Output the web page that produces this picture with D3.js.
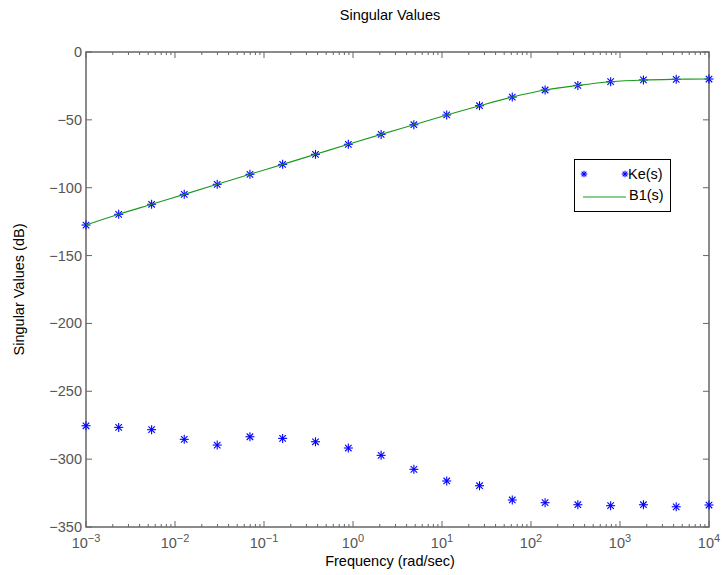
<!DOCTYPE html>
<html><head><meta charset="utf-8">
<script src="https://cdn.jsdelivr.net/npm/d3@7"></script>
<style>
body{margin:0;background:#fff;}
svg{display:block;font-family:"Liberation Sans",Arial,Helvetica,sans-serif;}
</style></head>
<body><svg id="chart" width="722" height="575"></svg>
<script>
// Frequencies (rad/sec): 20 log-spaced points from 1e-3 to 1e4
const frequencies = [0.001,0.00233,0.00546,0.0127,0.0298,0.0695,0.162,0.379,0.886,2.07,4.83,11.3,26.4,61.6,144,336,785,1833,4281,10000];
// Ke(s) singular values (dB): upper and lower
const keUpper = [-127.5,-119.6,-112.2,-104.9,-97.5,-90.1,-82.8,-75.4,-68.0,-60.7,-53.6,-46.4,-39.6,-33.2,-28.0,-24.6,-21.9,-20.6,-20.1,-19.9];
const keLower = [-275.4,-276.6,-278.3,-285.4,-289.6,-283.5,-284.7,-287.2,-291.8,-297.2,-307.5,-316.1,-319.6,-330.1,-332.1,-333.6,-334.3,-333.6,-335.1,-333.8];
// B1(s) singular value (dB)
const b1 = [-127.5,-119.6,-112.2,-104.9,-97.5,-90.1,-82.8,-75.4,-68.0,-60.7,-53.6,-46.4,-39.6,-33.2,-28.0,-24.6,-21.9,-20.6,-20.1,-19.9];
const yTicks = [0,-50,-100,-150,-200,-250,-300,-350];
const xTickExps = [-3,-2,-1,0,1,2,3,4];
const legendLabels = ["Ke(s)","B1(s)"];

const svg = d3.select("#chart");
const L=86,R=709,T=52,B=527;
const FS=14.5;
const x = d3.scaleLog().domain([1e-3,1e4]).range([L,R]);
const y = d3.scaleLinear().domain([-350,0]).range([B,T]);
const axisCol = "#666";
const blue="#0000ff", green="#1a9a1a";

// ticks (inward), mirrored
const g = svg.append("g");
const minor=[];
for(let e=-3;e<4;e++) for(let k=2;k<=9;k++) minor.push(k*Math.pow(10,e));
const drawX = (v,len)=>{
  g.append("line").attr("x1",x(v)).attr("x2",x(v)).attr("y1",B).attr("y2",B-len).attr("stroke",axisCol);
  g.append("line").attr("x1",x(v)).attr("x2",x(v)).attr("y1",T).attr("y2",T+len).attr("stroke",axisCol);
};
minor.forEach(v=>drawX(v,3));
xTickExps.forEach(e=>drawX(Math.pow(10,e),6));
yTicks.forEach(v=>{
  g.append("line").attr("x1",L).attr("x2",L+6).attr("y1",y(v)).attr("y2",y(v)).attr("stroke",axisCol);
  g.append("line").attr("x1",R).attr("x2",R-6).attr("y1",y(v)).attr("y2",y(v)).attr("stroke",axisCol);
});
// box
svg.append("rect").attr("x",L).attr("y",T).attr("width",R-L).attr("height",B-T)
  .attr("fill","none").attr("stroke",axisCol).attr("stroke-width",1.5);

// tick labels
yTicks.forEach(v=>{
  svg.append("text").attr("x",L-4).attr("y",y(v)+5).attr("text-anchor","end")
    .attr("font-size",FS).attr("fill","#555").text(v===0?"0":"\u2212"+Math.abs(v));
});
xTickExps.forEach(e=>{
  const t = svg.append("text").attr("x",x(Math.pow(10,e))).attr("y",548).attr("text-anchor","middle")
    .attr("font-size",FS).attr("fill","#555");
  t.append("tspan").text("10");
  t.append("tspan").attr("dy",-6).attr("font-size",11).text(e<0?"\u2212"+Math.abs(e):String(e));
});

// titles
svg.append("text").attr("x",390).attr("y",19.5).attr("text-anchor","middle").attr("font-size",FS).attr("fill","#000").text("Singular Values");
svg.append("text").attr("x",390).attr("y",565.5).attr("text-anchor","middle").attr("font-size",FS).attr("fill","#000").text("Frequency (rad/sec)");
svg.append("text").attr("transform",`translate(24,${(T+B)/2}) rotate(-90)`).attr("text-anchor","middle").attr("font-size",FS).attr("fill","#000").text("Singular Values (dB)");

// star marker
function star(sel,cx,cy,r){
  const gg = sel.append("g").attr("stroke",blue).attr("stroke-width",1.1);
  const d=r*0.72;
  gg.append("line").attr("x1",cx-r).attr("x2",cx+r).attr("y1",cy).attr("y2",cy);
  gg.append("line").attr("x1",cx).attr("x2",cx).attr("y1",cy-r).attr("y2",cy+r);
  gg.append("line").attr("x1",cx-d).attr("x2",cx+d).attr("y1",cy-d).attr("y2",cy+d);
  gg.append("line").attr("x1",cx-d).attr("x2",cx+d).attr("y1",cy+d).attr("y2",cy-d);
}
const pts = svg.append("g");
frequencies.forEach((f,i)=>{ star(pts,x(f),y(keUpper[i]),4.5); star(pts,x(f),y(keLower[i]),4.5); });

// B1 line
const line = d3.line().x((d,i)=>x(frequencies[i])).y(d=>y(d)).curve(d3.curveMonotoneX);
svg.append("path").attr("d",line(b1)).attr("fill","none").attr("stroke",green).attr("stroke-width",1.1);

// legend
const lg = svg.append("g");
lg.append("rect").attr("x",574.5).attr("y",159.5).attr("width",96).attr("height",52).attr("fill","#fff").attr("stroke","#000").attr("stroke-width",1);
star(lg,584,174,3.3); star(lg,625,174,3.3);
lg.append("text").attr("x",628).attr("y",179).attr("font-size",FS).attr("fill","#000").text(legendLabels[0]);
lg.append("line").attr("x1",583).attr("x2",626).attr("y1",197).attr("y2",197).attr("stroke",green).attr("stroke-width",1.1);
lg.append("text").attr("x",629).attr("y",200).attr("font-size",FS).attr("fill","#000").text(legendLabels[1]);
</script></body></html>
